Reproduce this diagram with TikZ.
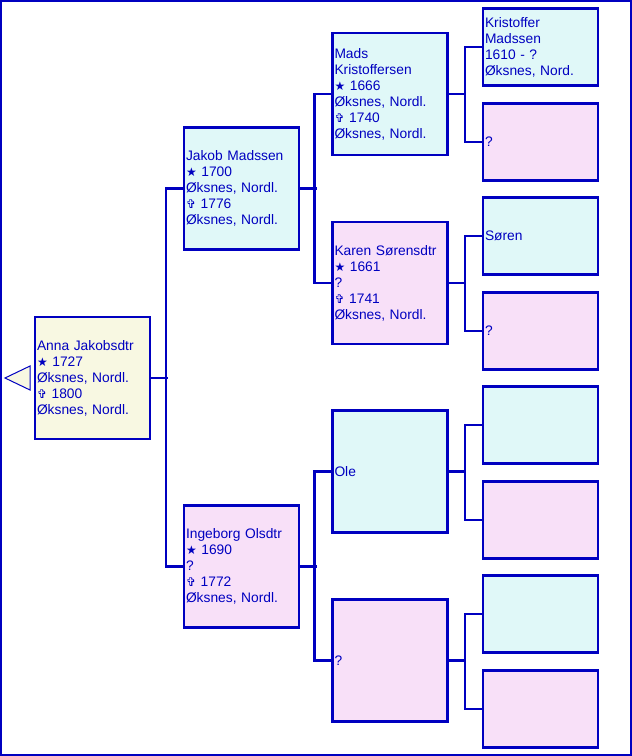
\documentclass[tikz,border=0pt]{standalone}
\usepackage{fontspec}
\setmainfont{Liberation Sans}
\newfontfamily\symfont{DejaVu Sans}
\usetikzlibrary{positioning}
\definecolor{lineblue}{HTML}{0000C0}
\definecolor{malefill}{HTML}{E0F8F8}
\definecolor{femalefill}{HTML}{F8E0F8}
\definecolor{rootfill}{HTML}{F8F8E2}
\newcommand{\birth}{{\symfont\fontsize{12}{12}\selectfont ★}}
\newcommand{\death}{{\symfont\fontsize{12}{12}\selectfont ✞}}
\tikzset{person/.style = {shape = rectangle, draw = lineblue, line width = 2.4pt, text = lineblue, align = left, text width = 111pt, inner xsep = 2pt, inner ysep = 0pt, font = \fontsize{13.8}{16}\selectfont}}
\tikzset{big/.style = {person, minimum height = 122pt}}
\tikzset{small/.style = {person, minimum height = 77pt}}
\tikzset{male/.style = {fill = malefill}}
\tikzset{female/.style = {fill = femalefill}}
\tikzset{edge/.style = {-, draw = lineblue, line width = 2.4pt}}

\begin{document}
\begin{tikzpicture}[x = 1pt, y = -1pt]
	\useasboundingbox (0, 0) rectangle (632, 756);
	\draw[lineblue, line width = 2.4pt] (1.2, 1.2) rectangle (630.8, 754.8);

	% root person
	\node[big, fill = rootfill] (anna) at (92.5, 378) {Anna Jakobsdtr\\\birth\ 1727\\Øksnes, Nordl.\\\death\ 1800\\Øksnes, Nordl.};
	\draw[lineblue, fill = rootfill, line width = 1pt] (30, 366) -- (5, 378) -- (30, 390) -- cycle;

	% parents
	\node[big, male] (jakob) at (241.5, 188.5) {Jakob Madssen\\\birth\ 1700\\Øksnes, Nordl.\\\death\ 1776\\Øksnes, Nordl.};
	\node[big, female] (ingeborg) at (241.5, 566.5) {Ingeborg Olsdtr\\\birth\ 1690\\?\\\death\ 1772\\Øksnes, Nordl.};

	% grandparents
	\node[big, male] (mads) at (390, 94) {Mads\\Kristoffersen\\\birth\ 1666\\Øksnes, Nordl.\\\death\ 1740\\Øksnes, Nordl.};
	\node[big, female] (karen) at (390, 283) {Karen Sørensdtr\\\birth\ 1661\\?\\\death\ 1741\\Øksnes, Nordl.};
	\node[big, male] (ole) at (390, 471.5) {Ole};
	\node[big, female] (ingmother) at (390, 660.5) {?};

	% great-grandparents
	\node[small, male] (kristoffer) at (540.5, 47) {Kristoffer\\Madssen\\1610 - ?\\Øksnes, Nord.};
	\node[small, female] (madsmother) at (540.5, 142) {?};
	\node[small, male] (soren) at (540.5, 236) {Søren};
	\node[small, female] (karenmother) at (540.5, 331) {?};
	\node[small, male] (olefather) at (540.5, 425) {};
	\node[small, female] (olemother) at (540.5, 520) {};
	\node[small, male] (motherfather) at (540.5, 614) {};
	\node[small, female] (mothermother) at (540.5, 709) {};

	\draw[edge] (anna.east) -- ++(17, 0);
	\draw[edge] (jakob.west) -- ++(-17, 0) |- (ingeborg.west);

	\draw[edge] (jakob.east) -- ++(17, 0);
	\draw[edge] (mads.west) -- ++(-17, 0) |- (karen.west);
	\draw[edge] (ingeborg.east) -- ++(17, 0);
	\draw[edge] (ole.west) -- ++(-17, 0) |- (ingmother.west);

	\draw[edge] (mads.east) -- ++(17, 0);
	\draw[edge] (kristoffer.west) -- ++(-17, 0) |- (madsmother.west);
	\draw[edge] (karen.east) -- ++(17, 0);
	\draw[edge] (soren.west) -- ++(-17, 0) |- (karenmother.west);
	\draw[edge] (ole.east) -- ++(17, 0);
	\draw[edge] (olefather.west) -- ++(-17, 0) |- (olemother.west);
	\draw[edge] (ingmother.east) -- ++(17, 0);
	\draw[edge] (motherfather.west) -- ++(-17, 0) |- (mothermother.west);
\end{tikzpicture}
\end{document}
